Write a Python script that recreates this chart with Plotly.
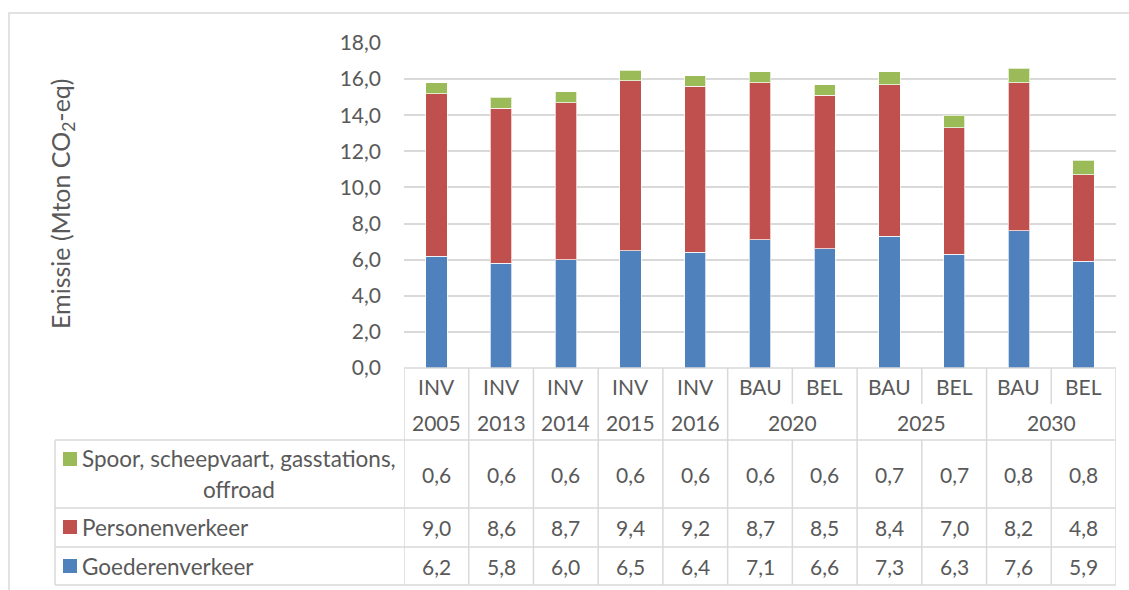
import plotly.graph_objects as go

scenarios = ['INV', 'INV', 'INV', 'INV', 'INV', 'BAU', 'BEL', 'BAU', 'BEL', 'BAU', 'BEL']
years = ['2005', '2013', '2014', '2015', '2016', '2020', '2020', '2025', '2025', '2030', '2030']
goederen = [6.2, 5.8, 6.0, 6.5, 6.4, 7.1, 6.6, 7.3, 6.3, 7.6, 5.9]
personen = [9.0, 8.6, 8.7, 9.4, 9.2, 8.7, 8.5, 8.4, 7.0, 8.2, 4.8]
spoor = [0.6, 0.6, 0.6, 0.6, 0.6, 0.6, 0.6, 0.7, 0.7, 0.8, 0.8]

W, H = 1129, 590
FONT = 'Lato'
GREY = '#595959'
LINE = '#D9D9D9'
colors = {'Goederenverkeer': '#4F81BD', 'Personenverkeer': '#C0504D',
          'Spoor, scheepvaart, gasstations, offroad': '#9BBB59'}


def px(p):
    return p / W


def py(p):
    return 1 - p / H


n = len(years)
xs = list(range(n))

fig = go.Figure()
for name, vals in [('Goederenverkeer', goederen), ('Personenverkeer', personen),
                   ('Spoor, scheepvaart, gasstations, offroad', spoor)]:
    fig.add_trace(go.Bar(x=xs, y=vals, name=name, width=0.33,
                         marker=dict(color=colors[name],
                                     line=dict(color='rgba(255,255,255,0.7)', width=1))))

fig.update_layout(
    barmode='stack', width=W, height=H, showlegend=False,
    margin=dict(l=0, r=0, t=0, b=0, pad=0, autoexpand=False),
    paper_bgcolor='white', plot_bgcolor='white',
    separators=',.',
    font=dict(family=FONT, size=21, color=GREY),
    xaxis=dict(domain=[px(404), px(1116)], range=[-0.5, n - 0.5], automargin=False,
               showticklabels=False, showgrid=False, zeroline=False, ticks=''),
    yaxis=dict(domain=[py(368), py(43)], range=[0, 18], dtick=2, tickformat='.1f',
               automargin=False,
               showgrid=True, gridcolor=LINE, gridwidth=1.5, zeroline=False,
               showline=False, ticks='', ticklabelstandoff=22,
               tickfont=dict(family=FONT, size=21, color=GREY)),
)

shapes = []
# outer chart border
shapes.append(dict(type='rect', xref='paper', yref='paper', x0=px(9), x1=px(1140),
                   y0=py(600), y1=py(13), line=dict(color=LINE, width=1.5)))
# table horizontal lines
shapes.append(dict(type='line', xref='paper', yref='paper', x0=px(404), x1=px(1116),
                   y0=py(368), y1=py(368), line=dict(color=LINE, width=1.5)))
for yy in [440, 508, 547, 585]:
    shapes.append(dict(type='line', xref='paper', yref='paper', x0=px(55), x1=px(1116),
                       y0=py(yy), y1=py(yy), line=dict(color=LINE, width=1.5)))
shapes.append(dict(type='line', xref='paper', yref='paper', x0=px(55), x1=px(55),
                   y0=py(440), y1=py(585), line=dict(color=LINE, width=1.5)))
# table vertical lines
for i in range(n + 1):
    xb = i - 0.5
    same_year = 0 < i < n and years[i] == years[i - 1]
    top_end = 404 if same_year else 440
    shapes.append(dict(type='line', xref='x', yref='paper', x0=xb, x1=xb,
                       y0=py(368), y1=py(top_end), line=dict(color=LINE, width=1.5)))
    shapes.append(dict(type='line', xref='x', yref='paper', x0=xb, x1=xb,
                       y0=py(440), y1=py(585), line=dict(color=LINE, width=1.5)))

ann = []
# scenario row and year row
for i in range(n):
    ann.append(dict(x=i, y=py(386), xref='x', yref='paper', text=scenarios[i],
                    showarrow=False, xanchor='center', yanchor='middle'))
i = 0
while i < n:
    j = i
    while j + 1 < n and years[j + 1] == years[i]:
        j += 1
    ann.append(dict(x=(i + j) / 2, y=py(422), xref='x', yref='paper', text=years[i],
                    showarrow=False, xanchor='center', yanchor='middle'))
    i = j + 1

# data rows
rows = [(spoor, 474), (personen, 527), (goederen, 566)]
for vals, yc in rows:
    for k, v in enumerate(vals):
        ann.append(dict(x=k, y=py(yc), xref='x', yref='paper',
                        text=f'{v:.1f}'.replace('.', ','),
                        showarrow=False, xanchor='center', yanchor='middle'))

# legend keys in the table
LF = dict(family=FONT, size=22.5, color=GREY)
for yc, col in [(459, '#9BBB59'), (527, '#C0504D'), (566, '#4F81BD')]:
    shapes.append(dict(type='rect', xref='paper', yref='paper', x0=px(63), x1=px(77),
                       y0=py(yc + 7), y1=py(yc - 7), fillcolor=col, line=dict(width=0)))
ann.append(dict(x=px(80), y=py(459), xref='paper', yref='paper', font=LF,
                text='Spoor, scheepvaart, gasstations,', showarrow=False,
                xanchor='left', yanchor='middle'))
ann.append(dict(x=px(239), y=py(489), xref='paper', yref='paper', text='offroad', font=LF,
                showarrow=False, xanchor='center', yanchor='middle'))
ann.append(dict(x=px(80), y=py(527), xref='paper', yref='paper', text='Personenverkeer',
                font=LF, showarrow=False, xanchor='left', yanchor='middle'))
ann.append(dict(x=px(80), y=py(566), xref='paper', yref='paper', text='Goederenverkeer',
                font=LF, showarrow=False, xanchor='left', yanchor='middle'))

# y-axis title
ann.append(dict(x=px(62), y=py(204), xref='paper', yref='paper',
                text='Emissie (Mton CO<sub>2</sub>-eq)', textangle=-90,
                font=dict(family=FONT, size=25, color=GREY),
                showarrow=False, xanchor='center', yanchor='middle'))

fig.update_layout(shapes=shapes, annotations=ann)
fig.write_html('out.html', config={'displayModeBar': False},
               post_script="document.body.style.margin='0';document.body.style.overflow='hidden';")
